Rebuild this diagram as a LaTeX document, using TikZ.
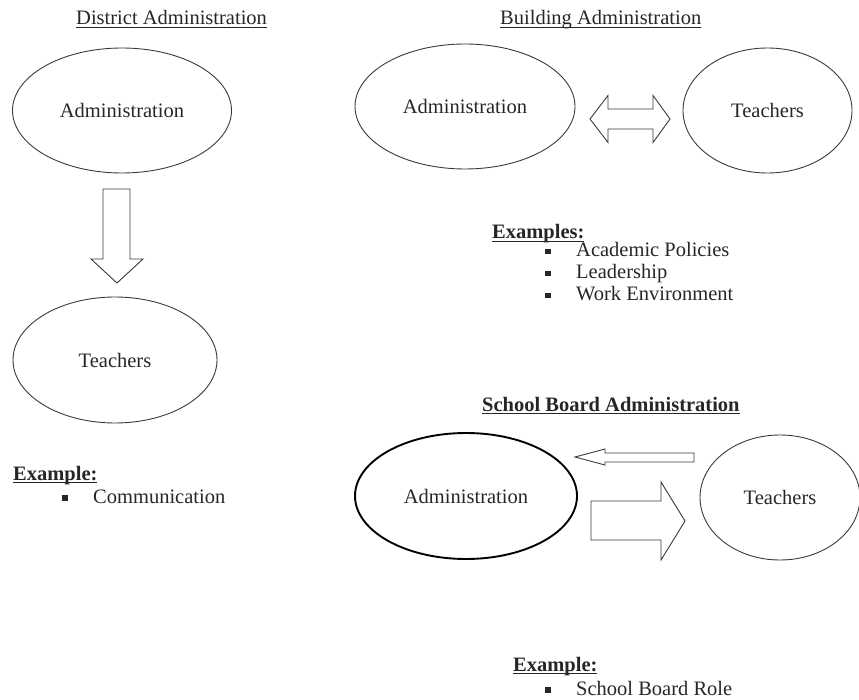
\documentclass[tikz,border=0pt]{standalone}
\usepackage{fontspec}
\setmainfont{Liberation Serif}
\usetikzlibrary{shapes.geometric}
\usetikzlibrary{positioning}

\definecolor{inkgray}{HTML}{3A3A3A}
\newcommand{\sqitem}{\makebox[31pt][l]{\rule[2.5pt]{5.5pt}{5.5pt}}}
\newcommand{\ulbase}[1]{\leavevmode\setbox0\hbox{#1}\rlap{\rule[-3.2pt]{\wd0}{0.9pt}}\box0}

\tikzset{
  bubble/.style={ellipse, draw=inkgray, line width=0.9pt, inner sep=0pt, text=black!85},
  heavybubble/.style={bubble, draw=black, line width=1.9pt},
  blockarrow/.style={draw=inkgray, line width=0.9pt, line join=miter},
  heading/.style={anchor=base west, inner sep=0pt, text=black!85},
  listline/.style={anchor=base west, inner sep=0pt, text=black!85}
}

\begin{document}
\begin{tikzpicture}[x=1pt,y=-1pt,font=\fontsize{20.5}{24}\selectfont]
      \useasboundingbox (0,0) rectangle (859,700);
      % District Administration
      \node[heading] (dhead) at (76,25) {\ulbase{District Administration}};
      \node[bubble, minimum width=219pt, minimum height=125pt] (dadmin) at (122,110.5) {Administration};
      \node[bubble, minimum width=204pt, minimum height=126pt] (dteach) at (115,360) {Teachers};
      \draw[blockarrow] (103,189) -- (130,189) -- (130,259) -- (143,259) -- (117,283)
        -- (91,259) -- (103,259) -- cycle;
      \node[listline] (dex) at (13,480) {\ulbase{\textbf{Example:}}};
      \node[listline] (dex1) at (62,503) {\sqitem Communication};
      % Building Administration
      \node[heading] (bhead) at (500,25) {\ulbase{Building Administration}};
      \node[bubble, minimum width=220pt, minimum height=125pt] (badmin) at (465,106.5) {Administration};
      \node[bubble, minimum width=169pt, minimum height=125pt] (bteach) at (767.5,110.5) {Teachers};
      \draw[blockarrow] (590,119) -- (608,95.5) -- (608,109) -- (653,109) -- (653,95.5) -- (670,119)
        -- (653,142.5) -- (653,129) -- (608,129) -- (608,142.5) -- cycle;
      \node[listline] (bex) at (492,239) {\ulbase{\textbf{Examples:}}};
      \foreach \y/\item in {257/Academic Policies,279/Leadership,301/Work Environment}
      \node[listline] at (545,\y) {\sqitem \item};
      % School Board Administration
      \node[heading] (shead) at (482,411) {\ulbase{\textbf{School Board Administration}}};
      \node[heavybubble, minimum width=222pt, minimum height=126pt] (sadmin) at (466,496) {Administration};
      \node[bubble, minimum width=160pt, minimum height=125pt] (steach) at (780,497.5) {Teachers};
      \draw[blockarrow] (575,457) -- (605,449) -- (605,453) -- (694,453) -- (694,462)
        -- (605,462) -- (605,465) -- cycle;
      \draw[blockarrow] (591,501) -- (661,501) -- (661,482) -- (685,521) -- (661,560)
        -- (661,540) -- (591,540) -- cycle;
      \node[listline] (sex) at (513,671) {\ulbase{\textbf{Example:}}};
      \node[listline] (sex1) at (545,695) {\sqitem School Board Role};
	\end{tikzpicture}
\end{document}
